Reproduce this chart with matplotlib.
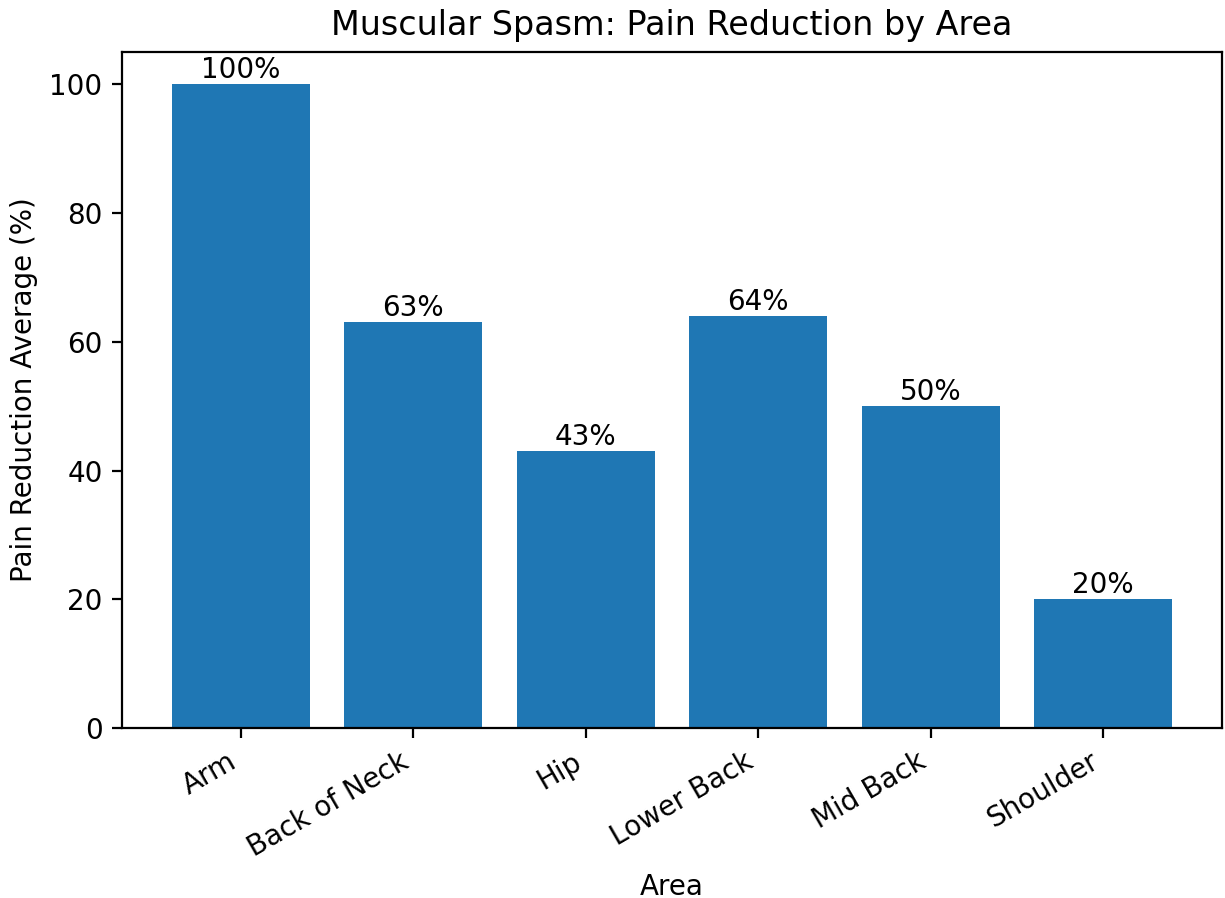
import matplotlib
matplotlib.use("Agg")
import matplotlib.pyplot as plt

areas = ["Arm", "Back of Neck", "Hip", "Lower Back", "Mid Back", "Shoulder"]
reduction = [100, 63, 43, 64, 50, 20]

fig, ax = plt.subplots(figsize=(6.125, 4.49), dpi=200)
bars = ax.bar(areas, reduction, color="#1f77b4")
for b, v in zip(bars, reduction):
    ax.text(b.get_x() + b.get_width() / 2, v, f"{v}%", ha="center", va="bottom")

ax.set_title("Muscular Spasm: Pain Reduction by Area")
ax.set_xlabel("Area")
ax.set_ylabel("Pain Reduction Average (%)")
plt.xticks(rotation=30, ha="right")
fig.subplots_adjust(left=0.0996, right=0.9976, top=0.942, bottom=0.1893)
fig.savefig("out.png", dpi=200)
